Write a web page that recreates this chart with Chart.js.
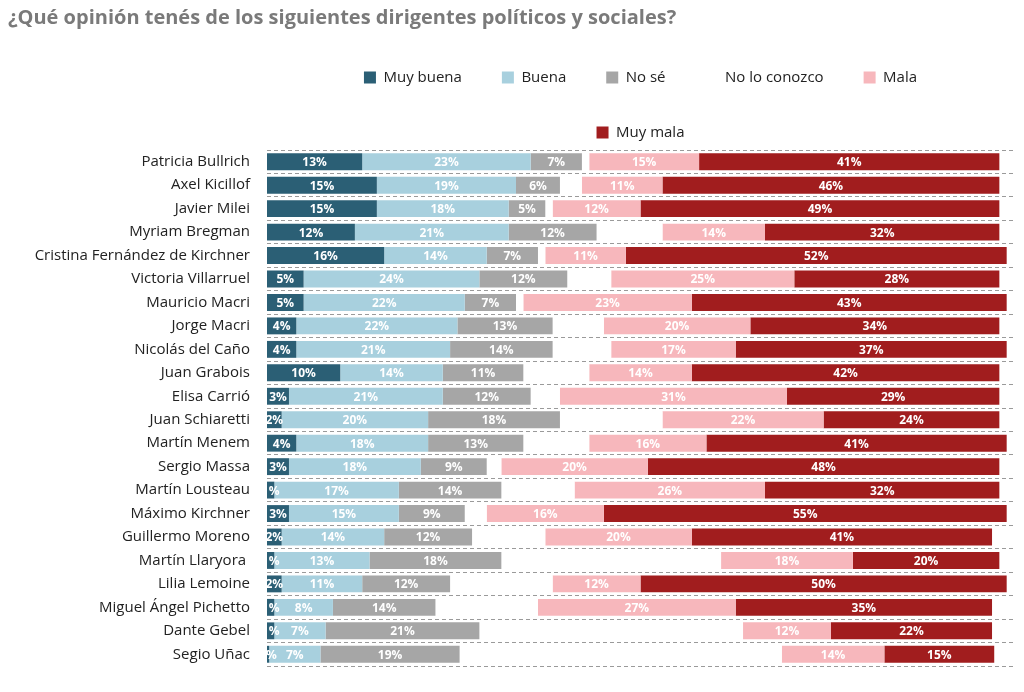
<!DOCTYPE html>
<html lang="es">
<head>
<meta charset="UTF-8" />
<script src="https://cdn.jsdelivr.net/npm/chart.js"></script>
<style>
  body { margin: 0; background: #fff; }
  #wrap { width: 1024px; height: 692px; }
</style>
</head>
<body>
<div id="wrap"><canvas id="myChart"></canvas></div>
<script>
var names = ["Patricia Bullrich", "Axel Kicillof", "Javier Milei", "Myriam Bregman",
  "Cristina Fernández de Kirchner", "Victoria Villarruel", "Mauricio Macri", "Jorge Macri",
  "Nicolás del Caño", "Juan Grabois", "Elisa Carrió", "Juan Schiaretti", "Martín Menem",
  "Sergio Massa", "Martín Lousteau", "Máximo Kirchner", "Guillermo Moreno", "Martín Llaryora ",
  "Lilia Lemoine", "Miguel Ángel Pichetto", "Dante Gebel", "Segio Uñac"]
var muyBuena   = [13, 15, 15, 12, 16, 5, 5, 4, 4, 10, 3, 2, 4, 3, 1, 3, 2, 1, 2, 1, 1, 0.3]
var buena      = [23, 19, 18, 21, 14, 24, 22, 22, 21, 14, 21, 20, 18, 18, 17, 15, 14, 13, 11, 8, 7, 7]
var noSe       = [7, 6, 5, 12, 7, 12, 7, 13, 14, 11, 12, 18, 13, 9, 14, 9, 12, 18, 12, 14, 21, 19]
var noConozco  = [1, 3, 1, 9, 1, 6, 1, 7, 8, 9, 4, 14, 9, 2, 10, 3, 10, 30, 14, 14, 36, 44]
var mala       = [15, 11, 12, 14, 11, 25, 23, 20, 17, 14, 31, 22, 16, 20, 26, 16, 20, 18, 12, 27, 12, 14]
var muyMala    = [41, 46, 49, 32, 52, 28, 43, 34, 37, 42, 29, 24, 41, 48, 32, 55, 41, 20, 50, 35, 22, 15]

var labelPlugin = {
  id: "segLabels",
  afterDatasetsDraw: function (chart) {
    var ctx = chart.ctx
    ctx.save()
    ctx.font = "bold 12px 'Open Sans'"
    ctx.fillStyle = "#fff"
    ctx.textAlign = "center"
    ctx.textBaseline = "middle"
    chart.data.datasets.forEach(function (ds, i) {
      if (ds.label === "No lo conozco") return
      chart.getDatasetMeta(i).data.forEach(function (bar, j) {
        var t = Math.round(ds.data[j]) + "%"
        ctx.fillText(t, (bar.x + bar.base) / 2, bar.y + 1)
      })
    })
    ctx.restore()
  }
}

new Chart(document.getElementById("myChart"), {
  type: "bar",
  data: {
    labels: names,
    datasets: [
      { label: "Muy buena", data: muyBuena, backgroundColor: "#2b5f75" },
      { label: "Buena", data: buena, backgroundColor: "#a8d0de" },
      { label: "No sé", data: noSe, backgroundColor: "#a6a6a6" },
      { label: "No lo conozco", data: noConozco, backgroundColor: "#ffffff" },
      { label: "Mala", data: mala, backgroundColor: "#f7b7bc" },
      { label: "Muy mala", data: muyMala, backgroundColor: "#a11d1e" }
    ]
  },
  options: {
    indexAxis: "y",
    responsive: true,
    maintainAspectRatio: false,
    animation: false,
    datasets: { bar: { categoryPercentage: 0.72, barPercentage: 1 } },
    layout: { padding: { left: 8, right: 10, top: 0, bottom: 0 } },
    scales: {
      x: { stacked: true, display: false, min: 0, max: 102 },
      y: {
        stacked: true,
        afterFit: function (s) { s.width = 259 },
        border: { display: false, dash: [4, 3] },
        grid: { offset: true, color: "#9a9a9a", lineWidth: 1, drawTicks: false },
        ticks: { color: "#222", padding: 17, font: { family: "'Open Sans'", size: 15 } }
      }
    },
    plugins: {
      title: {
        display: true, align: "start",
        text: "¿Qué opinión tenés de los siguientes dirigentes políticos y sociales?",
        color: "#7a7a7a", font: { family: "'Open Sans'", size: 20, weight: "bold" },
        padding: { top: 6, bottom: 0 }
      },
      legend: {
        display: true,
        fullSize: false,
        labels: { boxWidth: 12, boxHeight: 12, color: "#222", padding: 40, font: { family: "'Open Sans'", size: 15 } }
      },
      tooltip: { enabled: false }
    }
  },
  plugins: [labelPlugin]
})
</script>
</body>
</html>
